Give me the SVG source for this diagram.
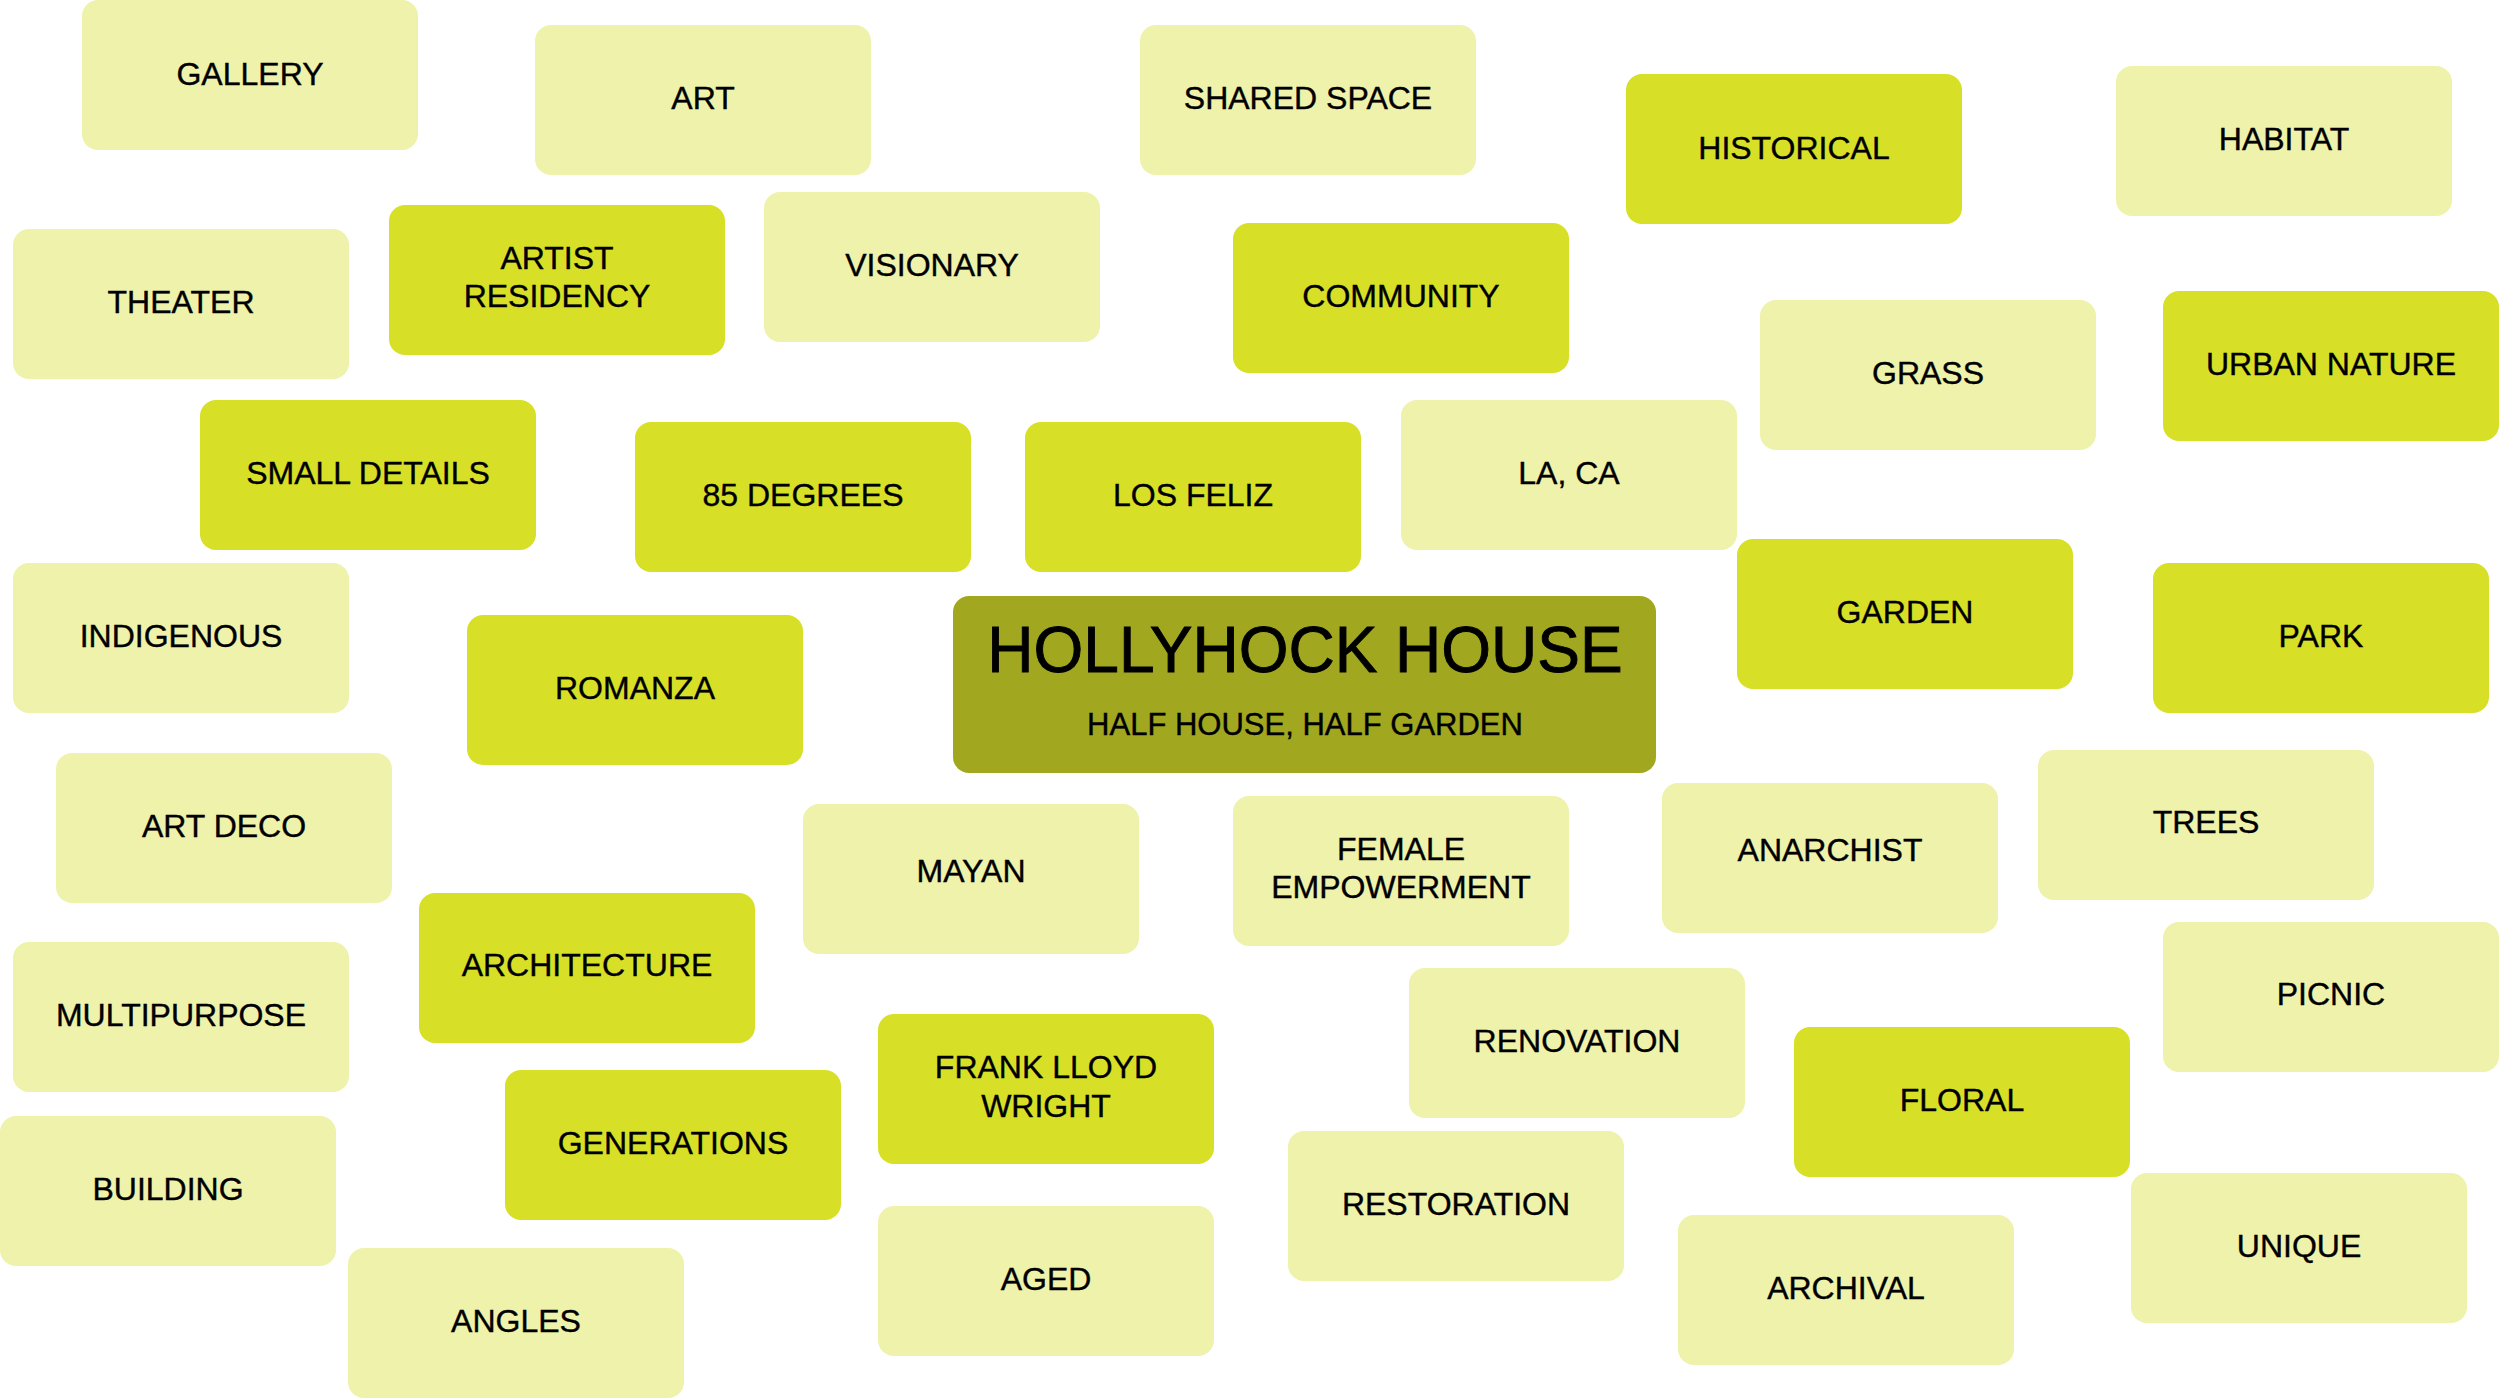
<svg xmlns="http://www.w3.org/2000/svg" width="2500" height="1398" viewBox="0 0 2500 1398">
<style>
.l{fill:#EEF2AA}
.b{fill:#D7E027}
.c{fill:#A1A81F}
rect{rx:16px;ry:16px}
text{font-family:"Liberation Sans",Arial,Helvetica,sans-serif;fill:#000;text-anchor:middle;font-size:32px;stroke:#000;stroke-width:0.4px}
.tt{font-size:64px;stroke-width:0.9px}
.st{font-size:31px}
</style>
<rect x="0" y="0" width="2500" height="1398" fill="#ffffff" style="rx:0;ry:0"/>
<g id="connectors"></g>
<g id="gallery"><rect class="l" x="82" y="0" width="336" height="150"/><text x="250" y="85">GALLERY</text></g>
<g id="art"><rect class="l" x="535" y="25" width="336" height="150"/><text x="703" y="109">ART</text></g>
<g id="shared-space"><rect class="l" x="1140" y="25" width="336" height="150"/><text x="1308" y="109">SHARED SPACE</text></g>
<g id="historical"><rect class="b" x="1626" y="74" width="336" height="150"/><text x="1794" y="159">HISTORICAL</text></g>
<g id="habitat"><rect class="l" x="2116" y="66" width="336" height="150"/><text x="2284" y="150">HABITAT</text></g>
<g id="theater"><rect class="l" x="13" y="229" width="336" height="150"/><text x="181" y="313">THEATER</text></g>
<g id="artist-residency"><rect class="b" x="389" y="205" width="336" height="150"/><text x="557" y="269">ARTIST</text><text x="557" y="307">RESIDENCY</text></g>
<g id="visionary"><rect class="l" x="764" y="192" width="336" height="150"/><text x="932" y="276">VISIONARY</text></g>
<g id="community"><rect class="b" x="1233" y="223" width="336" height="150"/><text x="1401" y="307">COMMUNITY</text></g>
<g id="grass"><rect class="l" x="1760" y="300" width="336" height="150"/><text x="1928" y="384">GRASS</text></g>
<g id="urban-nature"><rect class="b" x="2163" y="291" width="336" height="150"/><text x="2331" y="375">URBAN NATURE</text></g>
<g id="small-details"><rect class="b" x="200" y="400" width="336" height="150"/><text x="368" y="484">SMALL DETAILS</text></g>
<g id="degrees"><rect class="b" x="635" y="422" width="336" height="150"/><text x="803" y="506">85 DEGREES</text></g>
<g id="los-feliz"><rect class="b" x="1025" y="422" width="336" height="150"/><text x="1193" y="506">LOS FELIZ</text></g>
<g id="la-ca"><rect class="l" x="1401" y="400" width="336" height="150"/><text x="1569" y="484">LA, CA</text></g>
<g id="garden"><rect class="b" x="1737" y="539" width="336" height="150"/><text x="1905" y="623">GARDEN</text></g>
<g id="park"><rect class="b" x="2153" y="563" width="336" height="150"/><text x="2321" y="647">PARK</text></g>
<g id="indigenous"><rect class="l" x="13" y="563" width="336" height="150"/><text x="181" y="647">INDIGENOUS</text></g>
<g id="romanza"><rect class="b" x="467" y="615" width="336" height="150"/><text x="635" y="699">ROMANZA</text></g>
<g id="hollyhock-house"><rect class="c" x="953" y="596" width="703" height="177"/><text class="tt" x="1305" y="672">HOLLYHOCK HOUSE</text><text class="st" x="1305" y="735">HALF HOUSE, HALF GARDEN</text></g>
<g id="art-deco"><rect class="l" x="56" y="753" width="336" height="150"/><text x="224" y="837">ART DECO</text></g>
<g id="mayan"><rect class="l" x="803" y="804" width="336" height="150"/><text x="971" y="882">MAYAN</text></g>
<g id="female-empowerment"><rect class="l" x="1233" y="796" width="336" height="150"/><text x="1401" y="860">FEMALE</text><text x="1401" y="898">EMPOWERMENT</text></g>
<g id="anarchist"><rect class="l" x="1662" y="783" width="336" height="150"/><text x="1830" y="861">ANARCHIST</text></g>
<g id="trees"><rect class="l" x="2038" y="750" width="336" height="150"/><text x="2206" y="833">TREES</text></g>
<g id="architecture"><rect class="b" x="419" y="893" width="336" height="150"/><text x="587" y="976">ARCHITECTURE</text></g>
<g id="multipurpose"><rect class="l" x="13" y="942" width="336" height="150"/><text x="181" y="1026">MULTIPURPOSE</text></g>
<g id="picnic"><rect class="l" x="2163" y="922" width="336" height="150"/><text x="2331" y="1005">PICNIC</text></g>
<g id="renovation"><rect class="l" x="1409" y="968" width="336" height="150"/><text x="1577" y="1052">RENOVATION</text></g>
<g id="frank-lloyd-wright"><rect class="b" x="878" y="1014" width="336" height="150"/><text x="1046" y="1078">FRANK LLOYD</text><text x="1046" y="1117">WRIGHT</text></g>
<g id="floral"><rect class="b" x="1794" y="1027" width="336" height="150"/><text x="1962" y="1111">FLORAL</text></g>
<g id="generations"><rect class="b" x="505" y="1070" width="336" height="150"/><text x="673" y="1154">GENERATIONS</text></g>
<g id="building"><rect class="l" x="0" y="1116" width="336" height="150"/><text x="168" y="1200">BUILDING</text></g>
<g id="restoration"><rect class="l" x="1288" y="1131" width="336" height="150"/><text x="1456" y="1215">RESTORATION</text></g>
<g id="unique"><rect class="l" x="2131" y="1173" width="336" height="150"/><text x="2299" y="1257">UNIQUE</text></g>
<g id="aged"><rect class="l" x="878" y="1206" width="336" height="150"/><text x="1046" y="1290">AGED</text></g>
<g id="archival"><rect class="l" x="1678" y="1215" width="336" height="150"/><text x="1846" y="1299">ARCHIVAL</text></g>
<g id="angles"><rect class="l" x="348" y="1248" width="336" height="150"/><text x="516" y="1332">ANGLES</text></g>
</svg>
